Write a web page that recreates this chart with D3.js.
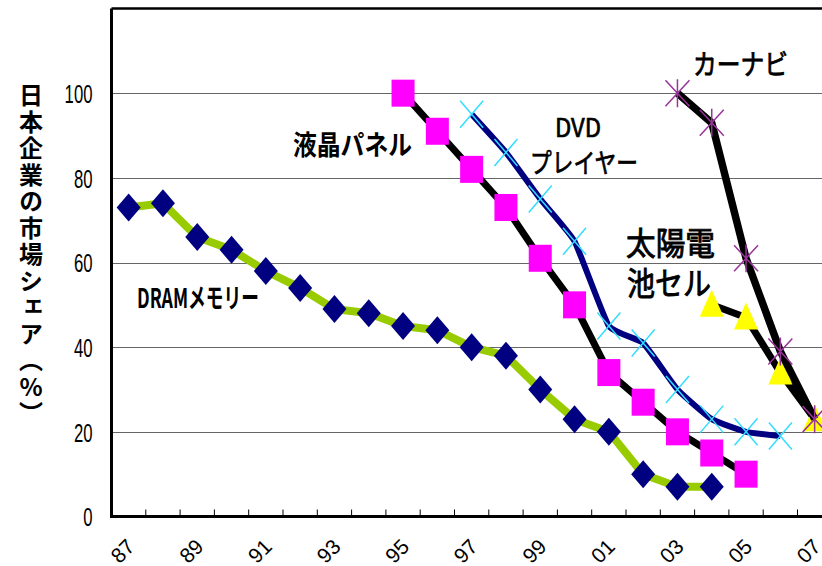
<!DOCTYPE html>
<html>
<head>
<meta charset="utf-8">
<script src="https://cdnjs.cloudflare.com/ajax/libs/d3/7.8.5/d3.min.js"></script>
<style>
  body { margin: 0; background: #fff; }
  svg { display: block; }
</style>
</head>
<body>
<div id="chart"></div>
<script>
// categories (years, 2-digit)
var years = ["87","88","89","90","91","92","93","94","95","96","97",
             "98","99","00","01","02","03","04","05","06","07"]

// market share of Japanese firms (%), null = no data
var dram   = [73,74,66,63,58,54,49,48,45,44,40,38,30,23,20,10,7,7,null,null,null]
var lcd    = [null,null,null,null,null,null,null,null,100,91,82,73,61,50,34,27,20,15,10,null,null]
var dvd    = [null,null,null,null,null,null,null,null,null,null,95,86,75,65,45,41,30,23,20,19,null]
var carnav = [null,null,null,null,null,null,null,null,null,null,null,null,null,null,null,null,100,93,61,39,23]
var solar  = [null,null,null,null,null,null,null,null,null,null,null,null,null,null,null,null,null,50,47,34,23]

var yTicks = [0,20,40,60,80,100]

var svg = d3.select("#chart").append("svg")
  .attr("width", 822)
  .attr("height", 566)

var plotLeft = 111.5, plotBottom = 516.5, plotTop = 8.5

var x = d3.scaleBand()
  .domain(years)
  .range([plotLeft, plotLeft + 21*34.3])

var y = d3.scaleLinear()
  .domain([0,120])
  .range([plotBottom, plotTop])

var bw = x.bandwidth()
function cx(i) { return x(years[i]) + bw/2 }

// grid lines
svg.append("g").selectAll("line")
  .data(yTicks.filter(function(d){ return d > 0 }))
  .enter().append("line")
  .attr("x1", plotLeft).attr("x2", 840)
  .attr("y1", function(d){ return Math.round(y(d)) + 0.5 })
  .attr("y2", function(d){ return Math.round(y(d)) + 0.5 })
  .style("stroke", "#666")
  .style("stroke-width", 1.2)

// frame: top, left, bottom
svg.append("line").attr("x1", plotLeft).attr("x2", 840).attr("y1", y(120)).attr("y2", y(120))
  .style("stroke", "#000").style("stroke-width", 2.5)
svg.append("line").attr("x1", plotLeft).attr("x2", plotLeft).attr("y1", y(120)).attr("y2", plotBottom)
  .style("stroke", "#000").style("stroke-width", 3)
svg.append("line").attr("x1", plotLeft - 1.5).attr("x2", 840).attr("y1", plotBottom).attr("y2", plotBottom)
  .style("stroke", "#000").style("stroke-width", 3)

// x tick marks at category boundaries (pointing up)
svg.append("g").selectAll("line")
  .data(years.slice(1))
  .enter().append("line")
  .attr("x1", function(d){ return x(d) }).attr("x2", function(d){ return x(d) })
  .attr("y1", plotBottom).attr("y2", plotBottom - 7)
  .style("stroke", "#000").style("stroke-width", 1)

// y axis labels
var yAxis = d3.axisLeft(y).tickValues(yTicks).tickSize(0).tickPadding(19)
var ya = svg.append("g")
  .attr("transform", "translate(" + plotLeft + ",0)")
  .call(yAxis)
ya.select(".domain").remove()
ya.selectAll("text")
  .style("font-family", "'Liberation Sans Narrow', 'Liberation Sans', sans-serif")
  .style("font-size", "26px")
  .style("fill", "#000")
  .attr("dy", "0.36em")
  .attr("textLength", function(d){ return String(d).length * 9.3 })
  .attr("lengthAdjust", "spacingAndGlyphs")

// x axis labels, every other year, rotated
svg.append("g").selectAll("text")
  .data(years.filter(function(d, i){ return i % 2 == 0 }))
  .enter().append("text")
  .attr("transform", function(d){
    return "translate(" + (x(d) + bw/2 - 6) + ",551) rotate(-45)"
  })
  .attr("text-anchor", "middle")
  .attr("dy", "0.35em")
  .style("font-family", "'Liberation Sans Narrow', 'Liberation Sans', sans-serif")
  .style("font-size", "21px")
  .text(function(d){ return d })

// y axis title (vertical)
svg.append("text")
  .attr("x", 31)
  .attr("y", 83)
  .style("writing-mode", "vertical-rl")
  .style("text-orientation", "upright")
  .style("font-family", "'Noto Sans CJK JP', sans-serif")
  .style("font-weight", "bold")
  .style("font-size", "24px")
  .style("letter-spacing", "2.5px")
  .text("日本企業の市場シェア（%）")

function idx(arr) {
  var out = []
  arr.forEach(function(v, i){ if (v != null) out.push(i) })
  return out
}

function drawLine(arr, color, width, curve) {
  var line = d3.line()
    .defined(function(d){ return d != null })
    .x(function(d, i){ return cx(i) })
    .y(function(d){ return y(d) })
  if (curve) line.curve(curve)
  svg.append("path")
    .datum(arr)
    .attr("d", line)
    .style("fill", "none")
    .style("stroke", color)
    .style("stroke-width", width)
    .style("stroke-linejoin", "round")
}

// DRAM
drawLine(dram, "#99cc00", 8)
svg.append("g").selectAll("path")
  .data(idx(dram))
  .enter().append("path")
  .attr("d", function(i){
    var px = cx(i), py = y(dram[i])
    return "M" + px + "," + (py-14) + "L" + (px+12) + "," + py + "L" + px + "," + (py+14) + "L" + (px-12) + "," + py + "Z"
  })
  .style("fill", "#000080")

// LCD panels
drawLine(lcd, "#000", 7)
svg.append("g").selectAll("rect")
  .data(idx(lcd))
  .enter().append("rect")
  .attr("x", function(i){ return cx(i) - 11.5 })
  .attr("y", function(i){ return y(lcd[i]) - 13.5 })
  .attr("width", 23)
  .attr("height", 27)
  .style("fill", "#ff00ff")

// DVD players (smoothed line)
drawLine(dvd, "#000080", 6, d3.curveCardinal.tension(0.6))
svg.append("g").selectAll("path")
  .data(idx(dvd))
  .enter().append("path")
  .attr("d", function(i){
    var px = cx(i), py = y(dvd[i])
    return "M" + (px-11.5) + "," + (py-13.5) + "L" + (px+11.5) + "," + (py+13.5) +
           "M" + (px+11.5) + "," + (py-13.5) + "L" + (px-11.5) + "," + (py+13.5)
  })
  .style("stroke", "#33ddff")
  .style("stroke-width", 1.5)

// solar cells
drawLine(solar, "#000", 7)
svg.append("g").selectAll("path")
  .data(idx(solar))
  .enter().append("path")
  .attr("d", function(i){
    var px = cx(i), py = y(solar[i])
    return "M" + px + "," + (py-15) + "L" + (px+12) + "," + (py+12) + "L" + (px-12) + "," + (py+12) + "Z"
  })
  .style("fill", "#ffff00")

// car navigation
drawLine(carnav, "#000", 7.5)
svg.append("g").selectAll("path")
  .data(idx(carnav))
  .enter().append("path")
  .attr("d", function(i){
    var px = cx(i), py = y(carnav[i])
    return "M" + (px-12) + "," + (py-13) + "L" + (px+12) + "," + (py+13) +
           "M" + (px+12) + "," + (py-13) + "L" + (px-12) + "," + (py+13) +
           "M" + px + "," + (py-14) + "L" + px + "," + (py+14)
  })
  .style("stroke", "#993399")
  .style("stroke-width", 1.5)

// series labels
var labels = [
  {t: "DRAMメモリー", x: 137, y: 308, size: 27, len: 122, w: "bold", s: 0},
  {t: "液晶パネル",   x: 293, y: 155, size: 27, len: 119, w: "bold", s: 0},
  {t: "DVD",         x: 555, y: 137, size: 26, len: 46,  w: "normal", s: 0.7},
  {t: "プレイヤー",   x: 530, y: 173, size: 27, len: 108, w: "normal", s: 0.7},
  {t: "カーナビ",     x: 693, y: 75,  size: 28, len: 95,  w: "normal", s: 0.8},
  {t: "太陽電",       x: 626, y: 255, size: 32, len: 89,  w: "normal", s: 0.9},
  {t: "池セル",       x: 627, y: 295, size: 32, len: 84,  w: "normal", s: 0.9}
]
svg.append("g").selectAll("text")
  .data(labels)
  .enter().append("text")
  .attr("x", function(d){ return d.x })
  .attr("y", function(d){ return d.y })
  .attr("textLength", function(d){ return d.len })
  .attr("lengthAdjust", "spacingAndGlyphs")
  .style("font-family", "'Noto Sans CJK JP', sans-serif")
  .style("font-size", function(d){ return d.size + "px" })
  .style("font-weight", function(d){ return d.w })
  .style("stroke", "#000")
  .style("stroke-width", function(d){ return d.s })
  .text(function(d){ return d.t })
</script>
</body>
</html>
